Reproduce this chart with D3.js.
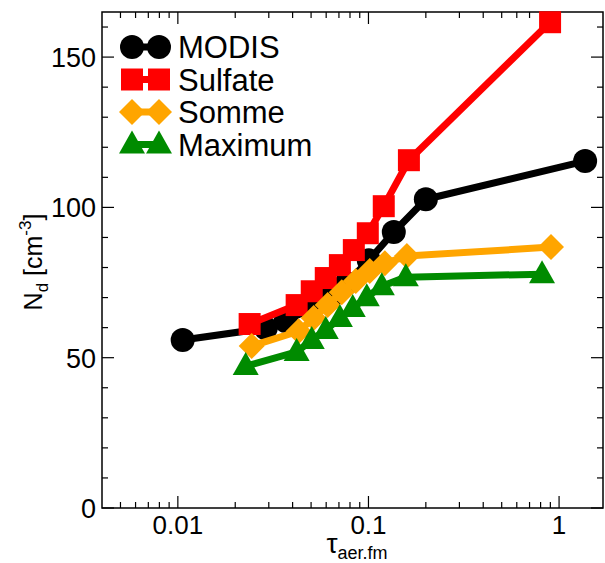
<!DOCTYPE html>
<html>
<head>
<meta charset="utf-8">
<script src="https://cdn.jsdelivr.net/npm/d3@7"></script>
<style>
  body { margin: 0; background: #fff; }
  text { font-family: "Liberation Sans", Arial, sans-serif; fill: #000; }
</style>
</head>
<body>
<svg id="chart" width="605" height="563"></svg>
<script>
// data
var modisTau = [0.0106, 0.0289, 0.0368, 0.0504, 0.0641, 0.0769, 0.1004, 0.1358, 0.200, 1.37];
var modisNd  = [55.9, 59.8, 62.2, 66.5, 70.5, 74.8, 82.4, 91.8, 102.7, 115.4];

var sulfateTau = [0.0238, 0.0420, 0.0504, 0.0597, 0.0708, 0.0838, 0.0992, 0.1203, 0.163, 0.897];
var sulfateNd  = [61.2, 67.5, 72.1, 76.5, 80.8, 85.8, 91.4, 100.4, 115.7, 161.6];

var sommeTau = [0.0244, 0.0430, 0.0516, 0.0611, 0.0724, 0.0858, 0.1016, 0.1219, 0.159, 0.907];
var sommeNd  = [53.9, 58.8, 63.2, 67.5, 71.8, 75.5, 78.8, 81.4, 83.8, 86.8];

var maximumTau = [0.0227, 0.0420, 0.0504, 0.0597, 0.0708, 0.0827, 0.0980, 0.1175, 0.157, 0.814];
var maximumNd  = [47.2, 51.9, 55.9, 59.2, 63.2, 66.5, 70.1, 73.8, 76.8, 77.8];

var xTickLabels = [0.01, 0.1, 1];
var yTickLabels = [0, 50, 100, 150];

var series = [
	{name: "MODIS",   tau: modisTau,   nd: modisNd,   color: "#000000", symbol: "circle"},
	{name: "Sulfate", tau: sulfateTau, nd: sulfateNd, color: "#ff0000", symbol: "square"},
	{name: "Somme",   tau: sommeTau,   nd: sommeNd,   color: "#ffa500", symbol: "diamond"},
	{name: "Maximum", tau: maximumTau, nd: maximumNd, color: "#008b00", symbol: "triangle"}
];

var LEFT = 102, RIGHT = 603, TOP = 12, BOTTOM = 508;
var MAJOR = 12, MINOR = 6;

var svg = d3.select("#chart");

var x = d3.scaleLog().domain([0.004, 1.7]).range([LEFT, RIGHT]);
var y = d3.scaleLinear().domain([0, 165]).range([BOTTOM, TOP]);

// symbol path, centred on 0,0
function symbolPath(type) {
	if (type == "circle") return d3.symbol(d3.symbolCircle, Math.PI * 12 * 12)();
	if (type == "square") return "M-11,-11H11V11H-11Z";
	if (type == "diamond") return "M0,-13L13,0L0,13L-13,0Z";
	return "M0,-14L13,9H-13Z";
}

// ticks, all pointing in
var xMinor = [];
[0.001, 0.01, 0.1, 1].forEach(function(dec) {
	for (var k = 2; k <= 9; k++) {
		var v = dec * k;
		if (v > 0.004 && v < 1.7) xMinor.push(v);
	}
});
var yMinor = d3.range(10, 165, 10).filter(function(v) { return v % 50 != 0; });

var ticks = svg.append("g").attr("stroke", "#000").attr("stroke-width", 1.2);

[[BOTTOM, -1], [TOP, 1]].forEach(function(side) {
	ticks.selectAll(null).data(xTickLabels).enter().append("line")
		.attr("x1", function(d) { return x(d); })
		.attr("x2", function(d) { return x(d); })
		.attr("y1", side[0])
		.attr("y2", side[0] + side[1] * MAJOR);
	ticks.selectAll(null).data(xMinor).enter().append("line")
		.attr("x1", function(d) { return x(d); })
		.attr("x2", function(d) { return x(d); })
		.attr("y1", side[0])
		.attr("y2", side[0] + side[1] * MINOR);
});

[[LEFT, 1], [RIGHT, -1]].forEach(function(side) {
	ticks.selectAll(null).data(yTickLabels).enter().append("line")
		.attr("y1", function(d) { return y(d); })
		.attr("y2", function(d) { return y(d); })
		.attr("x1", side[0])
		.attr("x2", side[0] + side[1] * MAJOR);
	ticks.selectAll(null).data(yMinor).enter().append("line")
		.attr("y1", function(d) { return y(d); })
		.attr("y2", function(d) { return y(d); })
		.attr("x1", side[0])
		.attr("x2", side[0] + side[1] * MINOR);
});

// frame
svg.append("rect")
	.attr("x", LEFT).attr("y", TOP)
	.attr("width", RIGHT - LEFT).attr("height", BOTTOM - TOP)
	.attr("fill", "none")
	.attr("stroke", "#000")
	.attr("stroke-width", 1.5);

// tick labels
svg.append("g").selectAll("text")
	.data(xTickLabels)
	.enter()
	.append("text")
	.attr("x", function(d) { return x(d); })
	.attr("y", BOTTOM + 26)
	.attr("text-anchor", "middle")
	.attr("font-size", 26)
	.text(function(d) { return d; });

svg.append("g").selectAll("text")
	.data(yTickLabels)
	.enter()
	.append("text")
	.attr("x", LEFT - 6)
	.attr("y", function(d) { return y(d) + 10; })
	.attr("text-anchor", "end")
	.attr("font-size", 27)
	.text(function(d) { return d; });

// axis titles
var yTitle = svg.append("text")
	.attr("transform", "translate(42,262) rotate(-90)")
	.attr("text-anchor", "middle")
	.attr("font-size", 25);
yTitle.append("tspan").text("N");
yTitle.append("tspan").attr("font-size", 17).attr("dy", 6).text("d");
yTitle.append("tspan").attr("dy", -6).text(" [cm");
yTitle.append("tspan").attr("font-size", 17).attr("dy", -11).text("-3");
yTitle.append("tspan").attr("dy", 11).text("]");

var xTitle = svg.append("text")
	.attr("x", 357)
	.attr("y", 553)
	.attr("text-anchor", "middle")
	.attr("font-size", 28);
xTitle.append("tspan").text("\u03c4");
xTitle.append("tspan").attr("font-size", 18).attr("dy", 6).text("aer.fm");

// series
var line = d3.line()
	.x(function(d) { return x(d[0]); })
	.y(function(d) { return y(d[1]); });

var plot = svg.append("g");

series.forEach(function(s) {
	var pts = s.tau.map(function(t, i) { return [t, s.nd[i]]; });
	var g = plot.append("g").classed("series", true);

	g.append("path")
		.attr("d", line(pts))
		.attr("fill", "none")
		.attr("stroke", s.color)
		.attr("stroke-width", 7)
		.attr("stroke-linejoin", "round");

	g.selectAll("path.marker")
		.data(pts)
		.enter()
		.append("path")
		.classed("marker", true)
		.attr("d", symbolPath(s.symbol))
		.attr("fill", s.color)
		.attr("transform", function(d) {
			return "translate(" + x(d[0]) + "," + y(d[1]) + ")";
		});
});

// legend
var legend = svg.append("g")
	.selectAll("g")
	.data(series)
	.enter()
	.append("g")
	.attr("transform", function(d, i) {
		return "translate(0," + (47 + i * 32.5) + ")";
	});

legend.append("line")
	.attr("x1", 132).attr("x2", 159)
	.attr("stroke", function(d) { return d.color; })
	.attr("stroke-width", 7);

legend.selectAll("path")
	.data(function(d) { return [[132, d], [159, d]]; })
	.enter()
	.append("path")
	.attr("d", function(d) { return symbolPath(d[1].symbol); })
	.attr("fill", function(d) { return d[1].color; })
	.attr("transform", function(d) { return "translate(" + d[0] + ",0)"; });

legend.append("text")
	.attr("x", 178)
	.attr("y", 11)
	.attr("font-size", 31)
	.text(function(d) { return d.name; });
</script>
</body>
</html>
